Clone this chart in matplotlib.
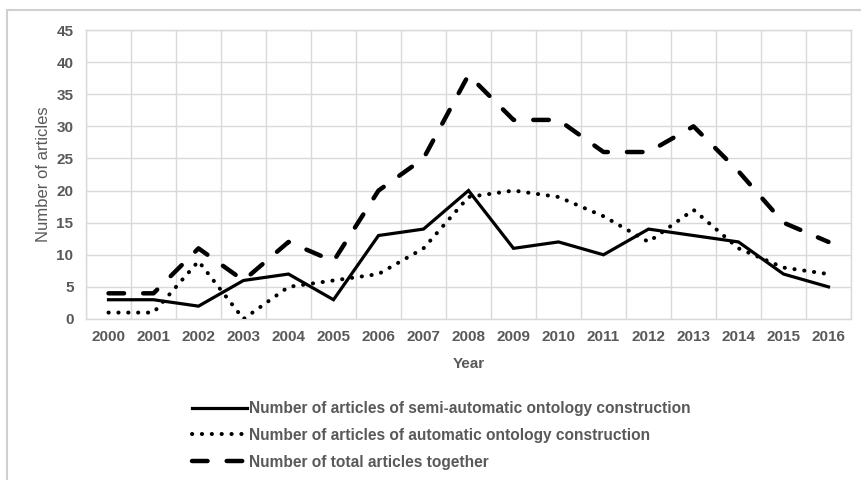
import matplotlib
matplotlib.use("Agg")
import matplotlib.pyplot as plt
from matplotlib.patches import Rectangle
import numpy as np

years = ["2000", "2001", "2002", "2003", "2004", "2005", "2006", "2007", "2008",
         "2009", "2010", "2011", "2012", "2013", "2014", "2015", "2016"]
semi_automatic = [3, 3, 2, 6, 7, 3, 13, 14, 20, 11, 12, 10, 14, 13, 12, 7, 5]
automatic = [1, 1, 9, 0, 5, 6, 7, 11, 19, 20, 19, 16, 12, 17, 11, 8, 7]
total = [4, 4, 11, 6, 12, 9, 20, 25, 38, 31, 31, 26, 26, 30, 23, 15, 12]
labels = ["Number of articles of semi-automatic ontology construction",
          "Number of articles of automatic ontology construction",
          "Number of total articles together"]

plt.rcParams['font.family'] = ['Liberation Sans', 'DejaVu Sans']
gray_text = "#595959"
grid_col = "#d9d9d9"

fig = plt.figure(figsize=(8.62, 4.8), dpi=100)
fig.patches.append(Rectangle((7/862, -0.1), 1.1, 1 - 10/480 + 0.1, transform=fig.transFigure,
                             fill=False, edgecolor="#d0d0d0", linewidth=1.5))

ax = fig.add_axes([86/862, 1 - 319/480, (851 - 86)/862, (319 - 30)/480])
x = np.arange(len(years))

ax.plot(x, semi_automatic, color="black", linewidth=2.3, solid_joinstyle="miter",
        label=labels[0], zorder=3)
ax.plot(x, automatic, color="black", linewidth=2.9, linestyle=(0, (0.05, 2.4)),
        dash_capstyle="round", label=labels[1], zorder=3)
ax.plot(x, total, color="black", linewidth=3.2, linestyle=(0, (3.5, 4.3)),
        dash_capstyle="round", label=labels[2], zorder=3)

ax.set_xlim(-0.5, len(years) - 0.5)
ax.set_ylim(0, 45)
ax.set_yticks(np.arange(0, 46, 5))
ax.set_xticks(x)
ax.set_xticklabels(years)
ax.set_xticks(np.arange(-0.5, len(years), 1), minor=True)

ax.grid(True, which="major", axis="y", color=grid_col, linewidth=1)
ax.grid(True, which="minor", axis="x", color=grid_col, linewidth=1)
ax.grid(False, which="major", axis="x")
ax.set_axisbelow(True)
for s in ax.spines.values():
    s.set_color(grid_col)
    s.set_linewidth(1)

ax.tick_params(axis="both", which="both", length=0, colors=gray_text, labelsize=11)
for lab in ax.get_xticklabels() + ax.get_yticklabels():
    lab.set_fontweight("bold")
ax.tick_params(axis="x", pad=8)
ax.tick_params(axis="y", pad=9)

ax.set_xlabel("Year", fontsize=11, fontweight="bold", color=gray_text, labelpad=9)
ax.set_ylabel("Number of articles", fontsize=12, fontweight="normal", color=gray_text, labelpad=4)

leg = fig.legend(loc="upper left", bbox_to_anchor=(192/862, 1 - 401/480),
                 frameon=False, fontsize=11.2, handlelength=3.55, handletextpad=0.12,
                 labelspacing=0.76, borderaxespad=0, borderpad=0)
for t in leg.get_texts():
    t.set_color(gray_text)
    t.set_fontweight("bold")

fig.savefig("out.png", dpi=100)
